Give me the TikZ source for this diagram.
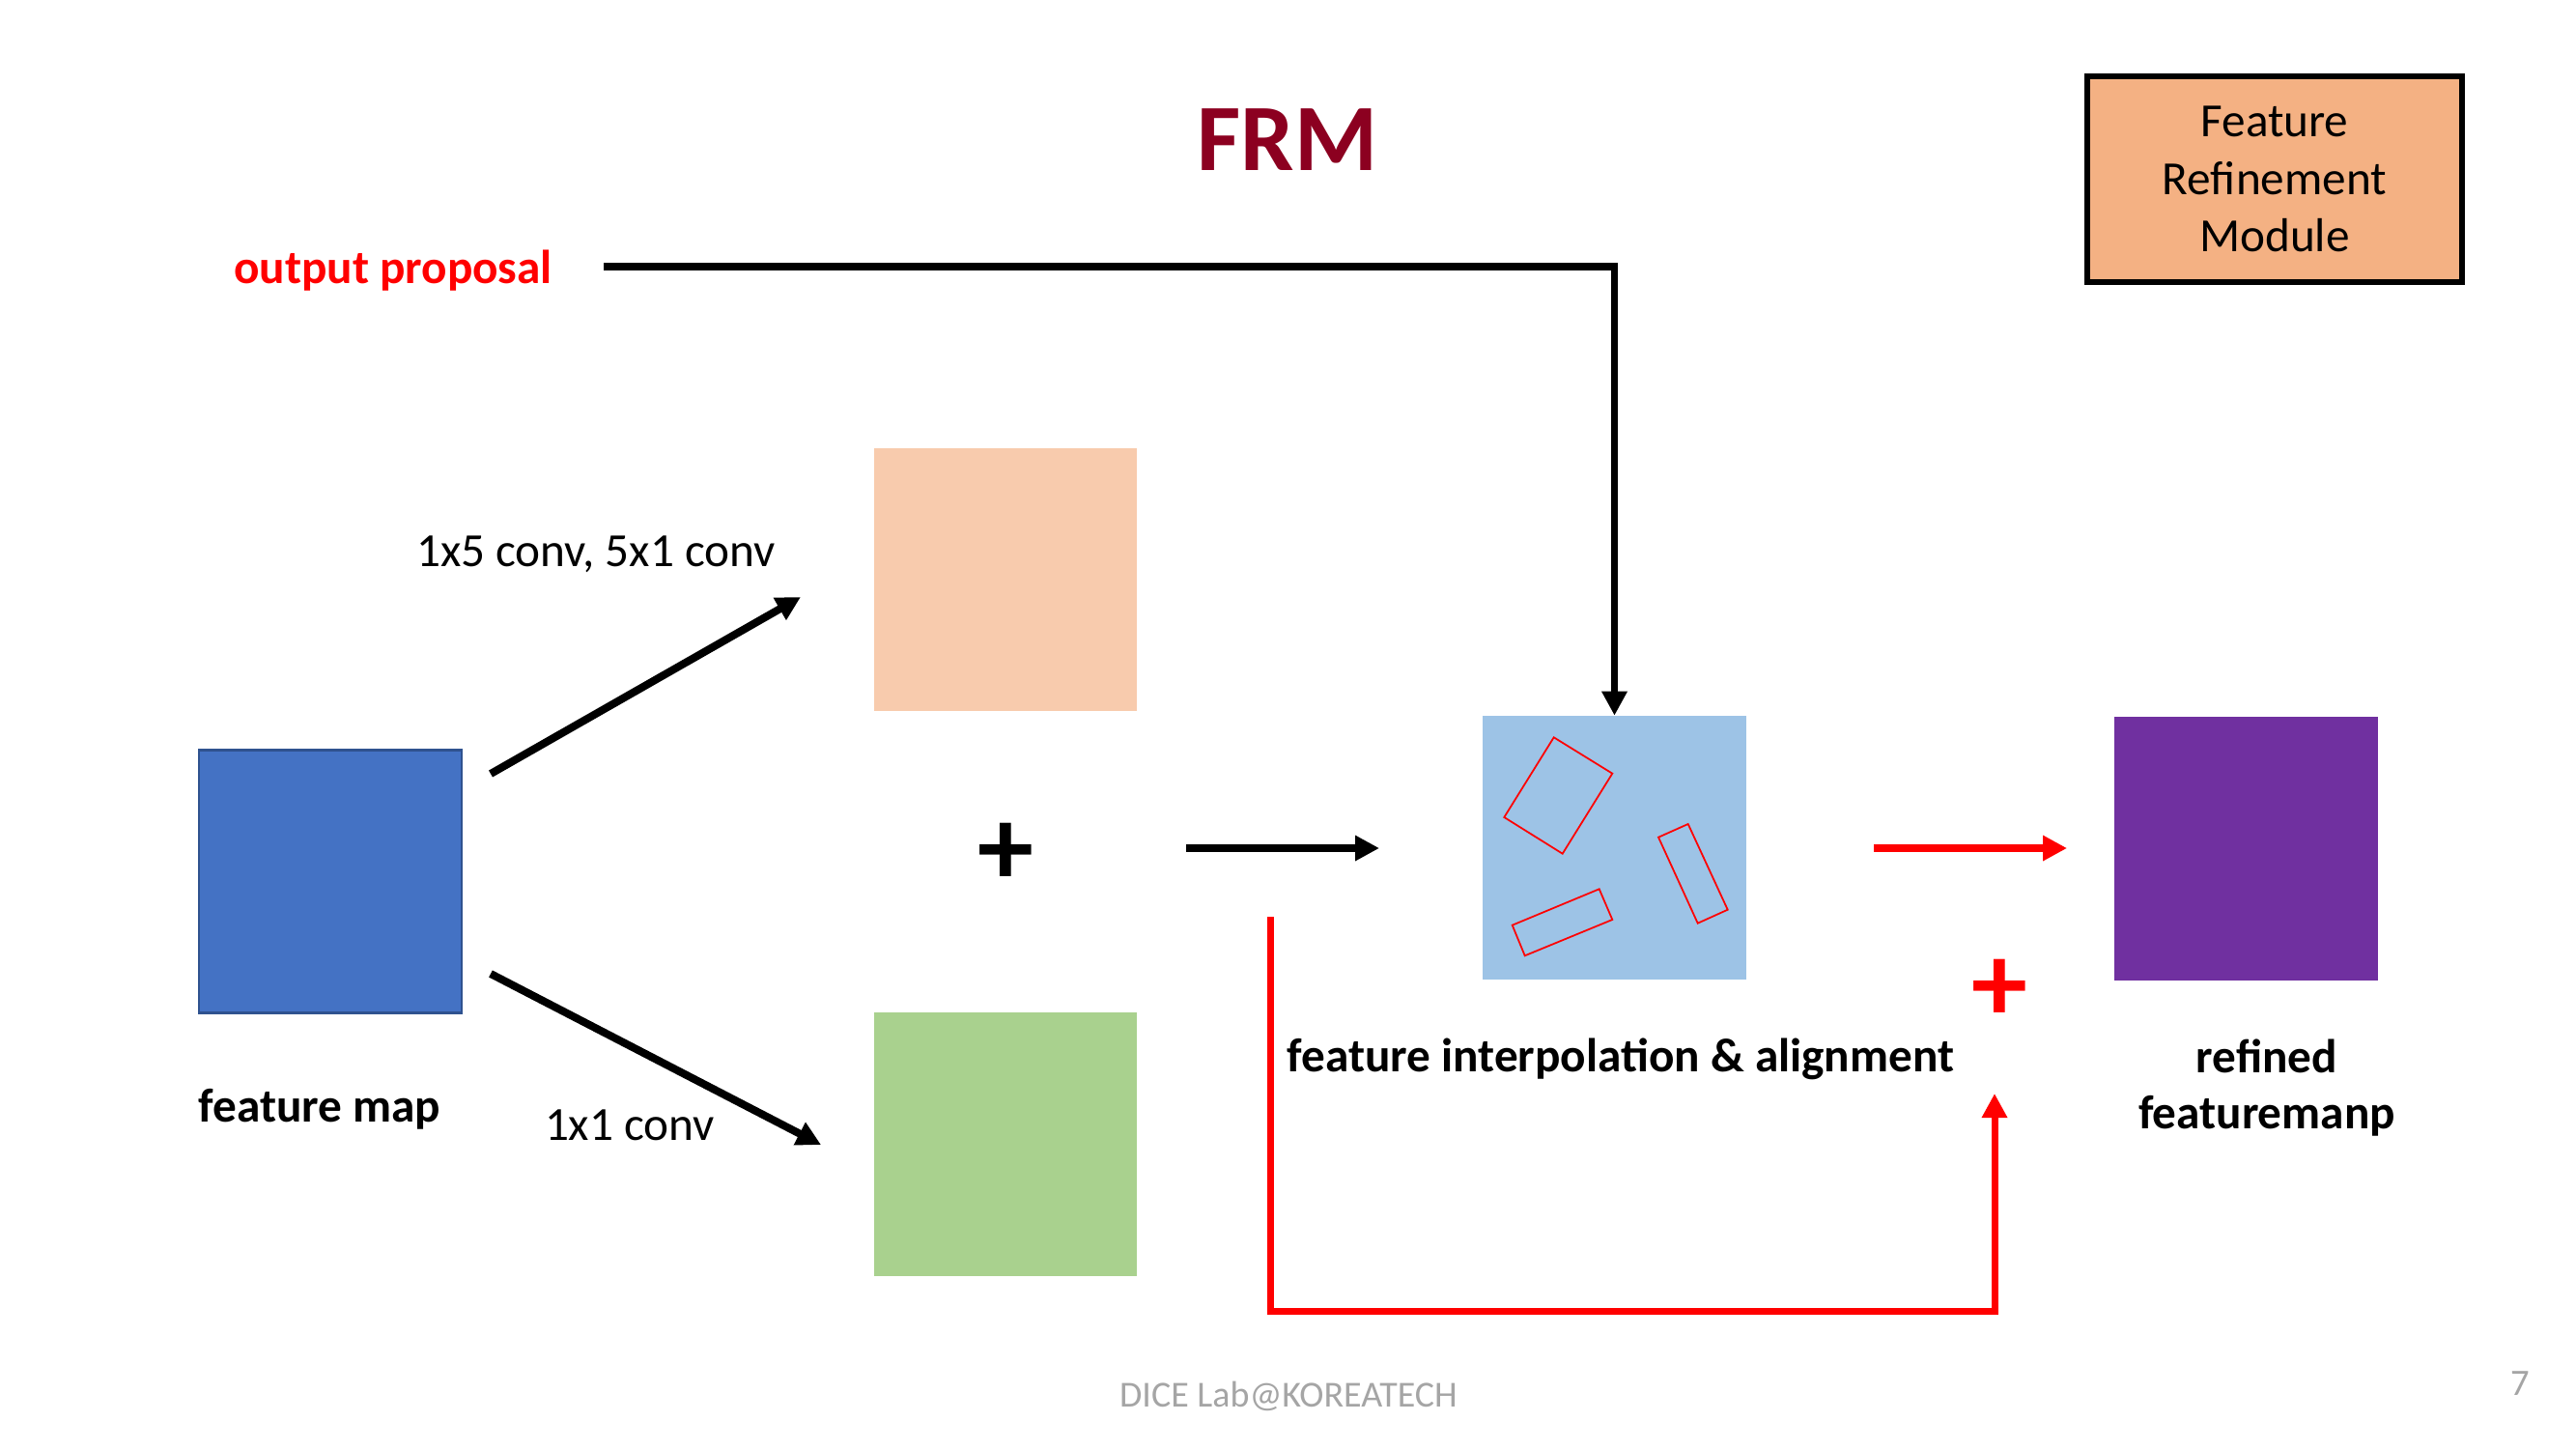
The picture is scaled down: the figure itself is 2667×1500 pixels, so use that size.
\documentclass[tikz,border=0pt]{standalone}
\usepackage{fontspec}
\setmainfont{Carlito}
\usepackage{tikz}
\usetikzlibrary{arrows.meta,positioning}
\definecolor{frmred}{RGB}{140,0,32}
\definecolor{fmblue}{HTML}{4472C4}
\definecolor{fmedge}{HTML}{2F528F}
\definecolor{peach}{HTML}{F8CBAD}
\definecolor{lgreen}{HTML}{A9D18E}
\definecolor{lblue}{HTML}{9DC3E6}
\definecolor{purp}{HTML}{7030A0}
\definecolor{boxorange}{HTML}{F4B183}
\definecolor{footgray}{RGB}{165,165,165}
\tikzstyle{sq}  = [rectangle, inner sep=0pt, minimum width=2.72cm, minimum height=2.72cm]
\tikzstyle{lb}  = [font=\fontsize{14}{16.5}\selectfont\bfseries, align=center, inner sep=0pt]
\tikzstyle{tx}  = [font=\fontsize{14}{16.5}\selectfont, inner sep=0pt]
\tikzstyle{pl}  = [font=\fontsize{33}{36}\selectfont\bfseries, inner sep=0pt]
\tikzstyle{ar}  = [-{Triangle[length=0.25cm,width=0.25cm]}, line width=0.08cm]
\tikzstyle{rar} = [ar, red]
\tikzstyle{bx}  = [red, line width=0.5pt]

\begin{document}
\begin{tikzpicture}[x=0.01cm,y=-0.01cm]
		\useasboundingbox (0,0) rectangle (2667,1500);

		% title and legend box
		\node[font=\fontsize{28}{32}\selectfont\bfseries, text=frmred] (title) at (1333,145) {FRM};
		\node[draw=black, line width=0.06cm, fill=boxorange, minimum width=3.87cm, minimum height=2.13cm,
			align=center, font=\fontsize{14}{17}\selectfont] (legend) at (2355,185.5) {Feature\\Refinement\\Module};

		% feature maps
		\node[sq, fill=fmblue, draw=fmedge, line width=0.8pt] (fmap) at (342,912.5) {};
		\node[sq, fill=peach]  (conv5) at (1041,600) {};
		\node[sq, fill=lgreen] (conv1) at (1041,1184.5) {};
		\node[sq, fill=lblue]  (align) at (1671.5,877.5) {};
		\node[sq, fill=purp]   (refine) at (2325.5,878.5) {};

		% proposals on the aligned map
		\draw[bx] (1608.7,763.3) -- (1669.3,800.7) -- (1617.7,883.7) -- (1557.3,846) -- cycle;
		\draw[bx] (1747.7,853) -- (1788.7,941.7) -- (1757.7,955.7) -- (1717,866.7) -- cycle;
		\draw[bx] (1655.7,920.3) -- (1669.3,952) -- (1578.7,989.3) -- (1565.7,957.7) -- cycle;

		% labels
		\node[lb, text=red] (prop) at (407,280) {output proposal};
		\node[tx] (c5lbl) at (617,574) {1x5 conv, 5x1 conv};
		\node[tx] (c1lbl) at (652,1165) {1x1 conv};
		\node[lb] (fmlbl) at (331,1148) {feature map};
		\node[lb] (allbl) at (1678,1096) {feature interpolation \& alignment};
		\node[lb] (rflbl) at (2347,1126) {refined\\featuremanp};
		\node[pl] (sum) at (1041,884) {+};
		\node[pl, text=red] (rsum) at (2070,1025) {+};

		% footer
		\node[font=\fontsize{10.8}{13}\selectfont, text=footgray] (foot) at (1334,1445) {DICE Lab@KOREATECH};
		\node[font=\fontsize{11}{13}\selectfont, text=footgray] (page) at (2609,1432) {7};

		% connectors
		\coordinate (u0) at (508,801);
		\coordinate (u1) at (829,618);
		\coordinate (d0) at (508,1008);
		\coordinate (d1) at (850,1185);
		\coordinate (m0) at (1228,878);
		\coordinate (m1) at (1428,878);
		\coordinate (r0) at (1940,878);
		\coordinate (r1) at (2140,878);
		\coordinate (p0) at (625,276);
		\coordinate (f0) at (1315,949);
		\coordinate (f1) at (2065,1132);

		\draw[ar] (u0) -- (u1);
		\draw[ar] (d0) -- (d1);
		\draw[ar] (m0) -- (m1);
		\draw[rar] (r0) -- (r1);
		\draw[ar, line width=0.07cm] (p0) -| (align.north);
		\draw[rar, line width=0.07cm] (f0) -- ++(0,408) -| (f1);
	\end{tikzpicture}
\end{document}
